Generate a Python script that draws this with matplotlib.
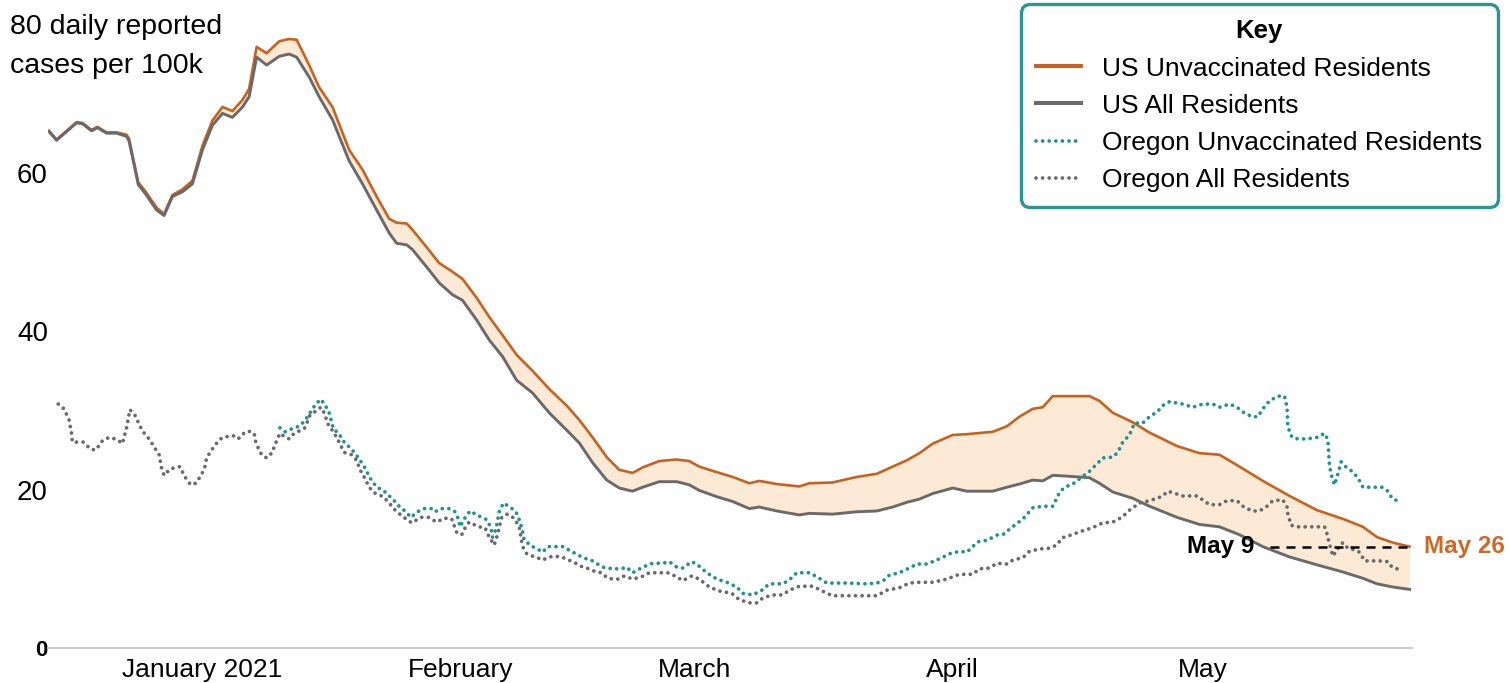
import matplotlib
matplotlib.use("Agg")
import matplotlib.pyplot as plt
import numpy as np
import pandas as pd

plt.rcParams["font.family"] = ["Liberation Sans", "DejaVu Sans"]

START = pd.Timestamp("2021-01-01")

# day offsets are counted from Jan 1, 2021
us_days = [
    -18.4, -17.5, -15.1, -14.4, -13.3, -12.6, -11.5, -10.3, -9.1, -8.8,
    -7.7, -6.8, -5.5, -4.6, -3.6, -2.4, -1.2, 0.0, 1.2, 2.4,
    3.6, 4.8, 5.6, 6.5, 7.7, 9.2, 10.4, 11.3, 12.8, 14.0,
    15.6, 17.6, 19.2, 20.9, 22.4, 23.3, 24.5, 25.2, 26.9, 28.4,
    30.0, 31.2, 32.9, 34.4, 36.0, 37.7, 39.6, 41.6, 43.7, 45.2,
    46.8, 48.5, 50.0, 51.6, 52.8, 54.8, 56.9, 58.4, 59.6, 61.7,
    63.6, 65.6, 66.8, 68.9, 71.6, 72.8, 75.6, 78.5, 80.9, 82.8,
    84.5, 86.0, 87.6, 90.0, 91.7, 94.8, 96.5, 98.0, 99.6, 100.8,
    102.0, 103.7, 106.4, 107.6, 109.2, 111.6, 113.6, 116.9, 119.6, 122.0,
    124.4, 127.2, 130.4, 133.7, 136.8, 139.2, 140.9, 142.8, 144.8,
]
us_all = [
    65.2, 64.1, 66.3, 66.2, 65.3, 65.7, 65.0, 65.0, 64.6, 64.0,
    58.5, 57.3, 55.3, 54.6, 57.0, 57.6, 58.6, 62.9, 66.0, 67.5,
    67.0, 68.3, 69.6, 74.6, 73.6, 74.7, 75.0, 74.6, 72.1, 69.6,
    66.7, 61.5, 58.6, 55.3, 52.4, 51.1, 50.9, 50.3, 48.1, 46.1,
    44.6, 43.9, 41.4, 38.9, 36.8, 33.8, 32.2, 29.7, 27.5, 25.9,
    23.4, 21.2, 20.2, 19.8, 20.3, 21.0, 21.0, 20.6, 19.9, 19.1,
    18.5, 17.6, 17.8, 17.3, 16.8, 17.0, 16.9, 17.2, 17.3, 17.8,
    18.4, 18.8, 19.5, 20.2, 19.8, 19.8, 20.3, 20.7, 21.2, 21.1,
    21.8, 21.7, 21.5, 20.8, 19.7, 18.9, 17.9, 16.5, 15.6, 15.3,
    14.3, 12.8, 11.5, 10.5, 9.6, 8.8, 8.1, 7.7, 7.4,
]
us_unvax = [
    65.3, 64.2, 66.4, 66.3, 65.4, 65.8, 65.1, 65.1, 64.8, 64.3,
    58.8, 57.6, 55.6, 54.8, 57.2, 57.9, 59.0, 63.4, 66.6, 68.3,
    67.8, 69.2, 70.6, 75.9, 75.1, 76.6, 76.9, 76.8, 73.6, 70.8,
    68.3, 62.9, 60.4, 57.0, 54.2, 53.7, 53.6, 52.8, 50.6, 48.6,
    47.5, 46.6, 44.2, 41.8, 39.5, 37.0, 35.0, 32.7, 30.6, 28.8,
    26.6, 24.1, 22.5, 22.1, 22.8, 23.6, 23.8, 23.6, 22.9, 22.2,
    21.6, 20.8, 21.1, 20.7, 20.4, 20.8, 20.9, 21.6, 22.0, 22.9,
    23.7, 24.6, 25.8, 26.9, 27.0, 27.3, 28.0, 29.2, 30.2, 30.4,
    31.8, 31.8, 31.8, 31.2, 29.7, 28.5, 27.2, 25.5, 24.6, 24.4,
    22.9, 21.1, 19.2, 17.4, 16.3, 15.3, 14.0, 13.3, 12.8,
]

or_all_days = [
    -17.3, -16.6, -16.0, -15.7, -15.6, -14.3, -13.4, -12.8, -11.9, -11.1,
    -10.2, -9.6, -9.1, -8.7, -8.1, -7.2, -6.4, -5.8, -5.2, -4.9,
    -4.6, -3.9, -2.7, -2.1, -1.4, -0.8, -0.1, 0.3, 0.5, 1.1,
    1.8, 2.4, 3.7, 4.3, 4.8, 5.5, 6.2, 6.4, 6.8, 7.1,
    7.7, 8.4, 8.6, 9.0, 9.3, 9.7, 10.4, 11.0, 11.6, 12.3,
    12.9, 13.6, 14.2, 14.6, 15.1, 15.7, 16.4, 17.0, 17.9, 18.5,
    18.9, 19.4, 20.0, 20.6, 21.7, 22.4, 23.2, 24.3, 25.1, 26.2,
    27.1, 28.1, 29.0, 29.9, 30.5, 31.1, 31.4, 32.0, 33.1, 33.9,
    34.4, 35.0, 35.4, 35.9, 36.5, 37.4, 38.0, 38.3, 38.5, 38.9,
    39.6, 40.2, 40.8, 41.4, 42.1, 43.1, 43.7, 44.4, 45.0, 45.6,
    46.4, 47.2, 47.9, 48.5, 49.2, 49.9, 50.6, 51.6, 52.7, 53.6,
    54.6, 55.8, 56.9, 57.6, 58.7, 59.6, 60.8, 62.0, 63.5, 64.4,
    65.6, 66.5, 67.2, 68.3, 69.6, 70.4, 71.6, 73.2, 74.0, 74.9,
    75.6, 77.3, 79.7, 80.9, 82.1, 83.6, 84.8, 86.0, 87.6, 89.3,
    90.0, 90.8, 92.4, 93.2, 94.4, 95.3, 96.5, 97.2, 98.4, 99.2,
    100.4, 101.6, 102.5, 103.1, 104.0, 105.6, 106.8, 108.0, 109.2, 110.3,
    111.2, 112.4, 113.6, 114.5, 115.2, 115.8, 116.4, 117.6, 119.3, 120.0,
    120.8, 122.0, 122.9, 124.1, 124.8, 125.9, 126.8, 127.7, 128.4, 129.6,
    130.1, 130.2, 130.6, 131.3, 132.8, 134.6, 134.9, 135.2, 135.6, 136.1,
    136.8, 137.4, 138.2, 138.8, 139.4, 140.4, 141.2, 142.2, 142.7, 143.3,
    143.9,
]
or_all = [
    30.8, 30.2, 28.8, 27.1, 26.0, 26.0, 25.1, 25.0, 26.3, 26.6,
    26.3, 25.8, 27.8, 30.1, 29.4, 27.4, 26.4, 25.4, 24.4, 22.7,
    21.8, 22.6, 22.9, 21.6, 20.6, 20.8, 21.9, 22.9, 24.0, 25.0,
    26.0, 26.6, 26.8, 26.4, 27.0, 27.4, 27.1, 26.0, 25.0, 24.4,
    24.0, 24.7, 25.4, 26.4, 27.1, 26.8, 26.4, 27.1, 27.4, 27.8,
    29.4, 29.9, 30.4, 29.7, 28.2, 27.3, 26.0, 24.7, 24.4, 23.7,
    22.5, 21.6, 20.3, 19.6, 19.1, 18.3, 17.3, 16.4, 15.8, 16.5,
    16.5, 15.9, 16.4, 16.3, 14.6, 14.3, 15.0, 15.9, 15.3, 15.2,
    14.0, 13.0, 14.3, 16.5, 16.9, 16.4, 15.3, 13.4, 12.6, 11.9,
    11.6, 11.4, 11.1, 11.4, 11.6, 11.5, 11.2, 10.9, 10.6, 10.2,
    10.0, 9.6, 9.5, 8.9, 8.7, 8.7, 9.1, 8.7, 9.0, 9.5,
    9.5, 9.5, 9.0, 8.5, 9.1, 8.7, 7.7, 7.2, 6.9, 6.1,
    5.7, 5.7, 6.3, 6.7, 6.7, 7.3, 7.8, 7.8, 7.4, 6.9,
    6.6, 6.6, 6.6, 6.6, 7.3, 7.6, 8.2, 8.3, 8.3, 8.7,
    9.0, 9.3, 9.3, 10.0, 10.1, 10.7, 10.6, 11.1, 11.4, 12.2,
    12.5, 12.6, 13.0, 13.9, 14.2, 14.8, 15.2, 15.8, 15.9, 16.5,
    17.4, 18.3, 18.6, 18.9, 19.2, 19.8, 19.6, 19.2, 19.2, 18.7,
    18.1, 18.1, 18.6, 18.6, 17.9, 17.3, 17.3, 17.9, 18.6, 18.7,
    17.8, 16.9, 15.5, 15.3, 15.3, 15.3, 14.4, 13.1, 11.6, 12.4,
    13.3, 12.6, 12.4, 12.1, 11.0, 11.0, 11.0, 10.9, 10.2, 10.0,
    10.0,
]

or_unvax_days = [
    9.3, 9.9, 11.0, 11.6, 12.3, 12.9, 13.6, 14.2, 14.7, 15.2,
    15.7, 16.4, 17.0, 17.6, 18.3, 18.9, 19.4, 20.2, 20.9, 21.7,
    22.4, 23.0, 23.6, 24.3, 25.0, 25.8, 26.6, 27.5, 27.9, 28.6,
    29.6, 30.3, 30.7, 30.9, 31.4, 32.1, 32.9, 33.5, 34.1, 34.6,
    34.8, 35.2, 35.6, 36.1, 36.9, 37.6, 38.0, 38.3, 38.6, 39.6,
    40.2, 40.8, 41.4, 42.1, 43.3, 43.9, 44.6, 45.5, 46.2, 46.8,
    47.4, 48.1, 49.2, 50.2, 50.9, 51.6, 52.8, 54.0, 55.2, 56.0,
    56.9, 57.6, 58.7, 59.4, 60.5, 61.7, 62.9, 64.1, 64.8, 66.0,
    67.1, 68.0, 69.6, 70.4, 71.3, 72.8, 73.7, 74.9, 77.4, 79.7,
    80.9, 81.8, 82.4, 83.6, 84.8, 85.7, 86.9, 87.6, 88.7, 89.6,
    90.8, 91.7, 93.0, 94.1, 95.4, 96.2, 96.8, 97.7, 98.6, 99.6,
    100.8, 102.0, 102.8, 103.4, 104.4, 105.5, 106.4, 108.0, 109.2, 109.8,
    110.4, 111.2, 111.8, 112.8, 113.6, 114.5, 115.4, 116.0, 117.6, 118.8,
    120.0, 121.2, 122.0, 123.2, 124.1, 124.8, 125.9, 126.6, 127.2, 128.0,
    129.0, 129.8, 130.1, 130.2, 130.7, 131.4, 132.5, 133.7, 134.6, 135.0,
    135.2, 135.5, 135.8, 136.1, 136.6, 137.0, 137.9, 138.6, 139.2, 140.0,
    141.5, 142.2, 142.7, 143.3,
]
or_unvax = [
    27.8, 27.3, 27.8, 28.0, 28.7, 29.7, 30.8, 31.4, 30.7, 29.7,
    27.7, 27.0, 26.0, 25.4, 24.6, 23.7, 22.9, 21.3, 20.3, 19.9,
    19.2, 18.6, 17.9, 17.3, 16.5, 17.2, 17.6, 17.6, 17.2, 17.6,
    17.6, 17.2, 16.3, 15.3, 16.3, 17.3, 16.8, 16.5, 16.2, 15.2,
    14.0, 15.0, 17.2, 18.3, 17.8, 17.2, 16.2, 15.2, 13.6, 12.8,
    12.5, 12.1, 12.8, 12.8, 12.8, 12.4, 12.0, 11.5, 11.2, 11.0,
    10.6, 10.2, 10.0, 10.0, 10.2, 9.5, 10.2, 10.7, 10.7, 10.9,
    10.2, 10.1, 10.9, 10.5, 9.5, 8.7, 8.3, 7.7, 6.9, 6.7,
    7.3, 8.1, 8.1, 8.6, 9.5, 9.5, 9.0, 8.2, 8.2, 8.1,
    8.2, 8.6, 9.2, 9.5, 10.1, 10.6, 10.6, 10.9, 11.4, 11.9,
    12.2, 12.1, 13.4, 13.6, 14.3, 14.4, 15.0, 15.7, 16.5, 17.7,
    17.9, 17.9, 19.6, 20.3, 20.7, 21.6, 22.3, 24.0, 24.1, 24.7,
    26.0, 26.9, 28.4, 28.4, 29.2, 29.8, 30.8, 31.1, 30.8, 30.4,
    30.8, 30.8, 30.4, 30.8, 30.4, 29.8, 29.2, 29.2, 30.2, 31.2,
    31.8, 31.8, 30.4, 27.9, 26.6, 26.4, 26.4, 26.6, 27.1, 26.3,
    22.9, 21.5, 20.6, 21.6, 23.5, 23.0, 22.3, 21.5, 20.3, 20.3,
    20.3, 19.8, 18.9, 18.6,
]

month_ticks = ["2021-01-01", "2021-02-01", "2021-03-01", "2021-04-01", "2021-05-01"]
month_labels = ["January 2021", "February", "March", "April", "May"]
y_ticks = [0, 20, 40, 60]
callout_dates = ["2021-05-09", "2021-05-26"]
callout_labels = ["May 9", "May 26"]
legend_labels = [
    "US Unvaccinated Residents",
    "US All Residents",
    "Oregon Unvaccinated Residents",
    "Oregon All Residents",
]

ORANGE = "#C8621F"
GRAY = "#6A6A6A"
TEAL = "#1F9391"
FILL = "#FCE9D6"


def to_dates(days):
    return START + pd.to_timedelta(np.asarray(days, dtype=float), unit="D")


fig = plt.figure(figsize=(15.09, 6.83), dpi=100)
ax = fig.add_axes([48 / 1509, 35 / 683, 1364 / 1509, 633.6 / 683])

us_x = to_dates(us_days)
ax.fill_between(us_x, us_all, us_unvax, color=FILL, lw=0, zorder=1)
l_unvax, = ax.plot(us_x, us_unvax, color=ORANGE, lw=1.9, zorder=3)
l_all, = ax.plot(us_x, us_all, color=GRAY, lw=2.1, zorder=4)

dots = dict(lw=2.7, linestyle=(0, (0.01, 1.75)), dash_capstyle="round", zorder=5)
l_or_all, = ax.plot(to_dates(or_all_days), or_all, color=GRAY, **dots)
l_or_unvax, = ax.plot(to_dates(or_unvax_days), or_unvax, color=TEAL, **dots)

# May 9 -> May 26 reference at the latest unvaccinated rate
d0, d1 = pd.to_datetime(callout_dates)
ax.plot([d0, d1], [us_unvax[-1], us_unvax[-1]], color="black", lw=1.8,
        linestyle=(0, (3.6, 2.8)), zorder=6)
ax.annotate(callout_labels[0], xy=(d0, us_unvax[-1]), xytext=(-15, 0),
            textcoords="offset pixels", ha="right", va="center",
            fontsize=17.5, fontweight="bold", color="black", zorder=7)
ax.annotate(callout_labels[1], xy=(d1, us_unvax[-1]), xytext=(13, 0),
            textcoords="offset pixels", ha="left", va="center",
            fontsize=17.5, fontweight="bold", color="#CD6A2A",
            annotation_clip=False)

ax.set_xlim(us_x[0] - pd.Timedelta(hours=3), us_x[-1] + pd.Timedelta(hours=7))
ax.set_xticks(pd.to_datetime(month_ticks))
ax.set_xticklabels(month_labels, fontsize=19)
ax.tick_params(axis="x", length=0, pad=7)

ax.set_ylim(0, 80)
ax.set_yticks(y_ticks)
ax.set_yticklabels([str(v) for v in y_ticks], fontsize=20)
ax.get_yticklabels()[0].set_fontweight("bold")
ax.get_yticklabels()[0].set_fontsize(16)
ax.tick_params(axis="y", length=0, pad=0)

for side in ["top", "right", "left"]:
    ax.spines[side].set_visible(False)
ax.spines["bottom"].set_color("#CCCCCC")
ax.spines["bottom"].set_linewidth(1.5)

fig.text(10 / 1509, 1 - 14 / 683, "80 daily reported\ncases per 100k",
         fontsize=20.5, ha="left", va="top", linespacing=1.67)

leg = ax.legend(
    [l_unvax, l_all, l_or_unvax, l_or_all], legend_labels,
    loc="upper left", bbox_to_anchor=(1021 / 1509, 1 - 4 / 683),
    bbox_transform=fig.transFigure, borderaxespad=0,
    title="Key", title_fontproperties={"weight": "bold", "size": 18.5},
    fontsize=19, frameon=True, fancybox=True, framealpha=1,
    borderpad=0.58, labelspacing=0.5, handlelength=1.7, handletextpad=0.8,
)
for handle in leg.get_lines()[:2]:
    handle.set_linewidth(2.9)
frame = leg.get_frame()
frame.set_edgecolor("#2A9592")
frame.set_linewidth(2.4)
frame.set_boxstyle("round,pad=0,rounding_size=0.35")

fig.savefig("out.png", dpi=100)
